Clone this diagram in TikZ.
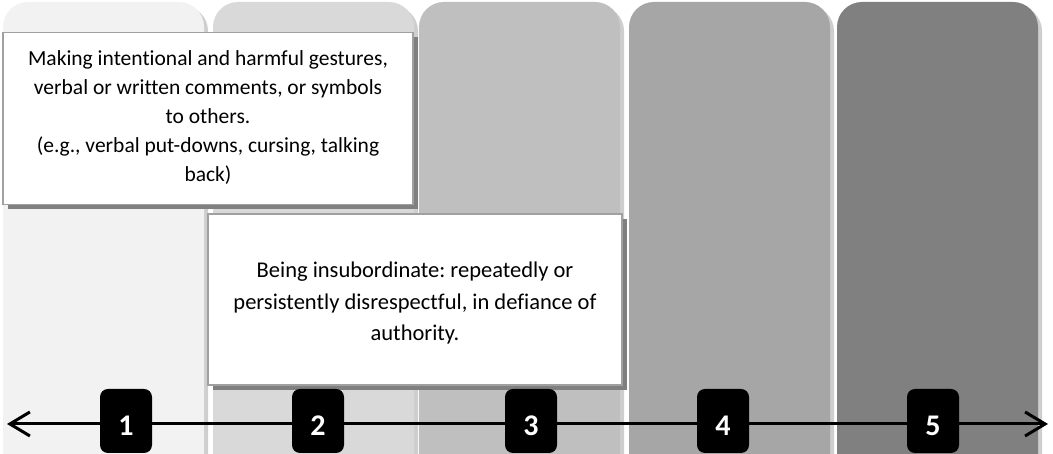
\documentclass[tikz,border=0pt]{standalone}
\usepackage{fontspec}
\setmainfont{Carlito}[Ligatures=NoCommon]
\usetikzlibrary{arrows.meta, positioning, shadows}
\definecolor{level1}{RGB}{242,242,242}
\definecolor{level2}{RGB}{217,217,217}
\definecolor{level3}{RGB}{191,191,191}
\definecolor{level4}{RGB}{166,166,166}
\definecolor{level5}{RGB}{128,128,128}
\definecolor{levelshade}{RGB}{206,206,206}
\definecolor{noteline}{RGB}{160,160,160}
\definecolor{noteshade}{RGB}{128,128,128}
\frenchspacing

\begin{document}
\begin{tikzpicture}[
    x=1pt, y=1pt,
    note/.style={rectangle, draw=noteline, line width=1.2pt, fill=white, inner sep=0pt,
      drop shadow={shadow xshift=5pt, shadow yshift=-5pt, fill=noteshade, opacity=1}},
    notetext/.style={align=center, inner sep=0pt},
    rank/.style={rectangle, fill=black, rounded corners=8pt, minimum width=52pt, minimum height=64pt,
      inner sep=0pt, text height=29pt, text depth=0pt, text=white, font=\bfseries\fontsize{30}{30}\selectfont},
    scale arrow/.style={{Straight Barb[length=20pt, width=24pt]}-{Straight Barb[length=20pt, width=24pt]}, line width=3pt}
]
\useasboundingbox (0,0) rectangle (1053,454);

% Columns
\foreach \x/\shade in {3/level1, 213/level2, 419/level3, 629/level4, 837/level5} {
  \fill[levelshade] (\x+4,0) -- (\x+4,423) arc (180:90:25) -- (\x+180,448) arc (90:0:25) -- (\x+205,0) -- cycle;
  \fill[\shade] (\x,0) -- (\x,427) arc (180:90:25) -- (\x+176,452) arc (90:0:25) -- (\x+201,0) -- cycle;
}

% Notes
\node[note, minimum width=410pt, minimum height=172pt] (gestures) at (208,335.5) {};
\node[notetext, font=\fontsize{21.5}{29}\selectfont] (gesturestext) at ([yshift=1pt]gestures.center)
  {Making intentional and harmful gestures,\\verbal or written comments, or symbols\\to others.\\(e.g., verbal put-downs, cursing, talking\\back)};
\node[note, minimum width=414pt, minimum height=171pt] (defiance) at (415,154.5) {};
\node[notetext, font=\fontsize{22.5}{31.5}\selectfont] (defiancetext) at ([yshift=-4pt]defiance.center)
  {Being insubordinate: repeatedly or\\persistently disrespectful, in defiance of\\authority.};

% Scale
\coordinate (lowend) at (7,30);
\coordinate (highend) at (1048,30);
\draw[scale arrow] (lowend) -- (highend);

\foreach \n/\x in {1/126, 2/318, 3/531, 4/723, 5/933} {
  \node[rank] (rank\n) at (\x,33) {\n};
}

\end{tikzpicture}
\end{document}
